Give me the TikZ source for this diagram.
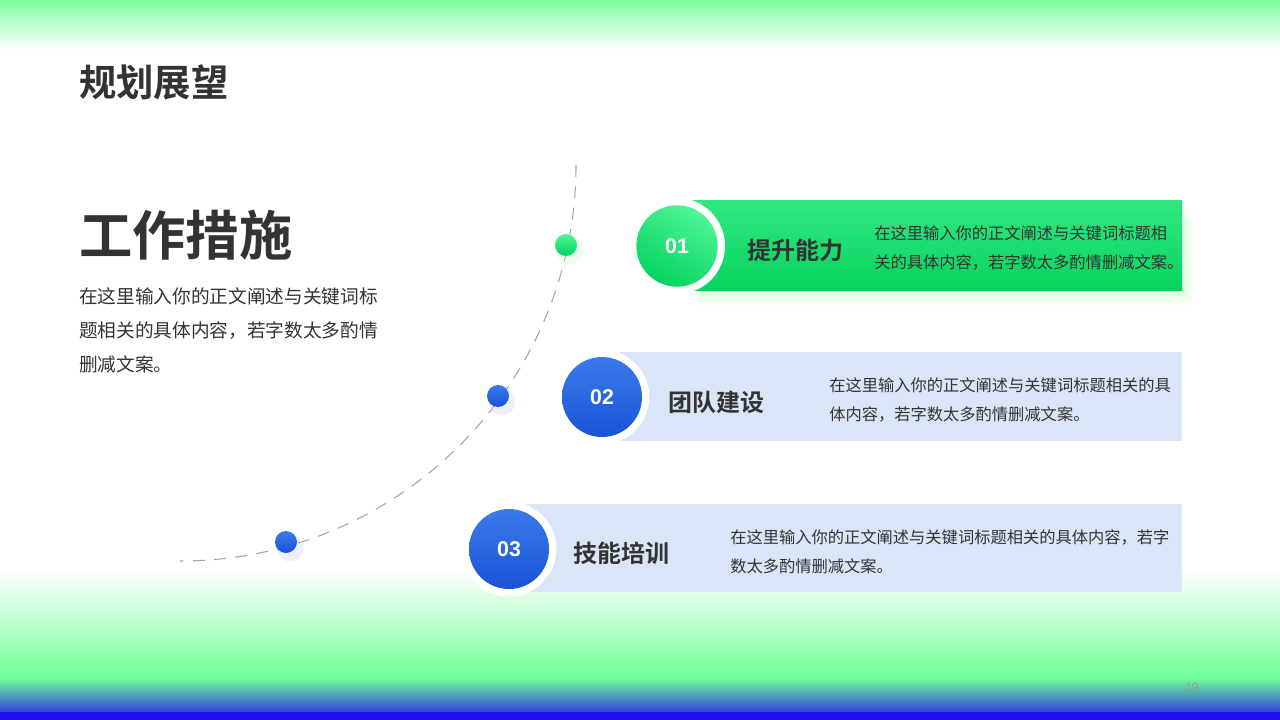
\documentclass[tikz,border=0pt]{standalone}
\usepackage{fontspec}
\setmainfont{Noto Sans CJK SC}
\newfontfamily\cjkb{Noto Sans CJK SC Bold}
\newfontfamily\numf{Liberation Sans}
\definecolor{txt}{HTML}{333333}
\definecolor{gA}{HTML}{4DF596}
\definecolor{gB}{HTML}{06D35F}
\definecolor{bA}{HTML}{3A7BEA}
\definecolor{bB}{HTML}{1A52D6}
\definecolor{cardb}{HTML}{DAE6F7}
\definecolor{topg}{HTML}{7DFCA0}
\definecolor{botg}{HTML}{70FF98}
\definecolor{botb}{HTML}{2010F0}
\tikzset{
  cardtitle/.style={anchor=west,font=\cjkb\fontsize{18pt}{20pt}\selectfont,text=txt,inner sep=0},
  carddesc/.style={anchor=west,align=left,font=\fontsize{12.2pt}{21.5pt}\selectfont,text=txt,inner sep=0},
  numtext/.style={font=\numf\bfseries\fontsize{16pt}{18pt}\selectfont,text=white},
  dot/.style={circle,minimum size=16.5pt,inner sep=0},
}
\begin{document}
\begin{tikzpicture}[x=0.75pt,y=-0.75pt]
\useasboundingbox (0,0) rectangle (1280,720);
\fill[white] (0,0) rectangle (1280,720);
\shade[top color=topg,bottom color=white] (0,0) rectangle (1280,50);
\shade[top color=white,bottom color=botg] (0,570) rectangle (1280,678);
\shade[top color=botg,bottom color=botb] (0,678) rectangle (1281,721);
\fill[botb] (0,712) rectangle (1280,720);
% texts
\node[anchor=west,inner sep=0,font=\cjkb\fontsize{28pt}{30pt}\selectfont,text=txt] (title) at (79,82) {规划展望};
\node[anchor=west,inner sep=0,font=\cjkb\fontsize{40pt}{44pt}\selectfont,text=txt] (sub) at (79,235) {工作措施};
\node[anchor=north west,align=left,inner sep=0,font=\fontsize{14pt}{25.5pt}\selectfont,text=txt] (ldesc) at (79,287) {在这里输入你的正文阐述与关键词标\\题相关的具体内容，若字数太多酌情\\删减文案。};
\node[text=gray!80,font=\numf\fontsize{9pt}{10pt}\selectfont] (pg) at (1192,687) {19};
% arc
\draw[gray!70,dashed,dash pattern=on 9pt off 7pt,line width=0.8pt] (180,165) ++(0:396) arc[start angle=0,end angle=-90,radius=297pt];
% dots
\fill[green!30,opacity=0.25] (570,251) circle (10pt);
\fill[blue!20,opacity=0.3] (502,402) circle (10pt);
\fill[blue!20,opacity=0.3] (290,548) circle (10pt);
\node[dot,top color=gA,bottom color=gB] (d1) at (566,245) {};
\node[dot,top color=bA,bottom color=bB] (d2) at (498,396) {};
\node[dot,top color=bA,bottom color=bB] (d3) at (286,542) {};
% card 1
\foreach \k in {1,...,6}{\fill[green!40,opacity=0.06] (690+\k*1.5,201+\k*3) rectangle (1182+\k*2,290+\k*2.5);}
\shade[top color=gA!60!gB,bottom color=gB] (690,201) rectangle (1182,290);
\fill[white] (677,246) circle (36pt);
\shade[top color=gA,bottom color=gB,shading angle=-30] (677,246) circle (30.5pt);
\node[numtext] (n1) at (677,246) {01};
\node[cardtitle] (t1) at (747,250) {提升能力};
\node[carddesc] (s1) at (874,248) {在这里输入你的正文阐述与关键词标题相\\关的具体内容，若字数太多酌情删减文案。};
% card 2
\fill[cardb] (620,352) rectangle (1182,441);
\fill[white] (602,397) circle (35.5pt);
\shade[top color=bA,bottom color=bB] (602,397) circle (30pt);
\node[numtext] (n2) at (602,397) {02};
\node[cardtitle] (t2) at (668,402) {团队建设};
\node[carddesc] (s2) at (829,400) {在这里输入你的正文阐述与关键词标题相关的具\\体内容，若字数太多酌情删减文案。};
% card 3
\fill[cardb] (525,504) rectangle (1182,592);
\fill[white] (509,549) circle (35.5pt);
\shade[top color=bA,bottom color=bB] (509,549) circle (30pt);
\node[numtext] (n3) at (509,549) {03};
\node[cardtitle] (t3) at (573,553) {技能培训};
\node[carddesc] (s3) at (730,552) {在这里输入你的正文阐述与关键词标题相关的具体内容，若字\\数太多酌情删减文案。};
\end{tikzpicture}
\end{document}
